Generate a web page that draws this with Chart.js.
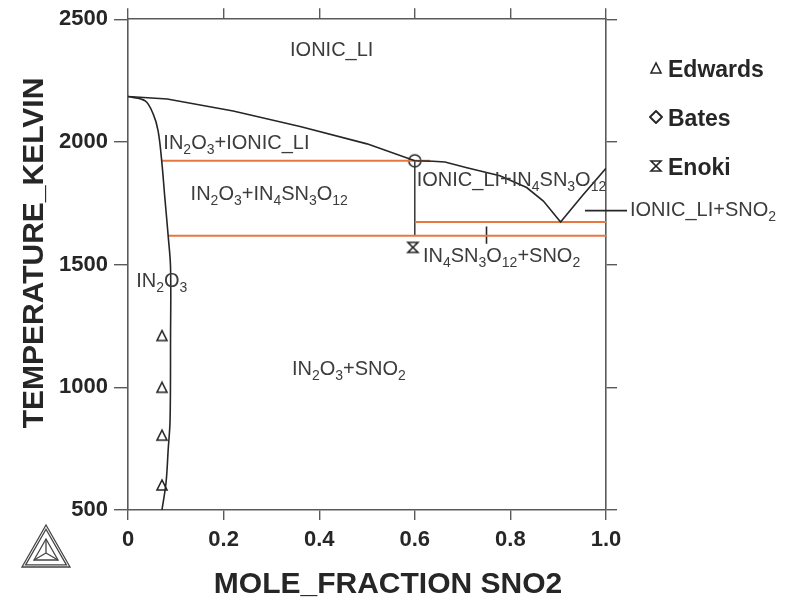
<!DOCTYPE html>
<html>
<head>
<meta charset="utf-8">
<script src="https://cdn.jsdelivr.net/npm/chart.js@4/dist/chart.umd.min.js"></script>
<style>
  html, body { margin: 0; padding: 0; background: #fff; }
  #wrap { width: 792px; height: 604px; }
</style>
</head>
<body>
<div id="wrap"><canvas id="graph-container" width="792" height="604"></canvas></div>
<script>
// Liquidus (upper boundary of IONIC_LI)
const liquidusX = [0, 0.082, 0.22, 0.36, 0.50, 0.60, 0.638, 0.663, 0.709, 0.778, 0.834, 0.869, 0.905, 0.95, 1.0];
const liquidusT = [2185, 2175, 2126, 2063, 1992, 1923, 1921, 1918, 1895, 1862, 1814, 1759, 1674, 1780, 1893];

// IN2O3 solvus
const solidusX = [0, 0.036, 0.053, 0.063, 0.0705, 0.077, 0.084, 0.089, 0.089, 0.088, 0.084, 0.0795, 0.071];
const solidusT = [2185, 2167, 2112, 2045, 1923, 1774, 1618, 1489, 1200, 866, 744, 610, 500];

// tie lines (orange)
const tieUpperX = [0.0705, 0.632];
const tieUpperT = [1923, 1923];
const tieEutecticX = [0.6, 1.0];
const tieEutecticT = [1674, 1674];
const tieLowerX = [0.084, 1.0];
const tieLowerT = [1618, 1618];

// IN4SN3O12 compound line and small marks
const compoundX = [0.6, 0.6];
const compoundT = [1923, 1618];
const markX = [0.75, 0.75];
const markT = [1655, 1585];
const leaderX = [0.956, 1.044];
const leaderT = [1720, 1720];

// experimental points
const edwardsX = [0.071, 0.071, 0.071, 0.071];
const edwardsT = [1211, 1000, 805, 602];
const batesX = [0.6];
const batesT = [1923];
const enokiX = [0.596];
const enokiT = [1570];

// region labels, {n} = subscript
const regionNames = ['IONIC_LI', 'IN{2}O{3}+IONIC_LI', 'IN{2}O{3}+IN{4}SN{3}O{12}', 'IONIC_LI+IN{4}SN{3}O{12}',
  'IONIC_LI+SNO{2}', 'IN{4}SN{3}O{12}+SNO{2}', 'IN{2}O{3}', 'IN{2}O{3}+SNO{2}'];
const regionX = [0.339, 0.074, 0.131, 0.604, 1.05, 0.617, 0.017, 0.343];
const regionT = [2350, 1971, 1764, 1821, 1699, 1512, 1407, 1049];

const xTicks = [0, 0.2, 0.4, 0.6, 0.8, 1.0];
const yTicks = [500, 1000, 1500, 2000, 2500];

const FONT = '"Liberation Sans", Arial, Helvetica, sans-serif';
const INK = '#262626';
const ORANGE = '#e8773f';
const FRAME = '#5a5a5a';

const pts = (xs, ys) => xs.map((x, i) => ({ x, y: ys[i] }));

// little canvases used as point styles
const makeMarker = (w, h, draw) => {
  const c = document.createElement('canvas');
  c.width = w; c.height = h;
  const g = c.getContext('2d');
  g.strokeStyle = INK;
  g.lineWidth = 1.6;
  draw(g);
  return c;
};
const triMarker = makeMarker(14, 14, g => {
  g.beginPath(); g.moveTo(7, 2); g.lineTo(2, 12); g.lineTo(12, 12); g.closePath(); g.stroke();
});
const circleMarker = makeMarker(16, 16, g => {
  g.beginPath(); g.arc(8, 8, 6, 0, Math.PI * 2); g.stroke();
});
const diamondMarker = makeMarker(16, 16, g => {
  g.lineJoin = 'round';
  g.lineWidth = 1.9;
  g.beginPath(); g.moveTo(8, 2); g.lineTo(14, 8); g.lineTo(8, 14); g.lineTo(2, 8); g.closePath(); g.stroke();
});
const glassMarker = makeMarker(14, 14, g => {
  g.beginPath();
  g.moveTo(2, 2); g.lineTo(12, 2); g.lineTo(2, 12); g.lineTo(12, 12); g.closePath();
  g.stroke();
});

const lineSet = (label, xs, ys, color, width, extra = {}) => Object.assign({
  label, data: pts(xs, ys), showLine: true, borderColor: color, borderWidth: width,
  pointRadius: 0, fill: false, tension: 0
}, extra);

const pointSet = (label, xs, ys, marker) => ({
  label, data: pts(xs, ys), showLine: false, pointStyle: marker, pointRadius: 6,
  borderColor: INK, backgroundColor: 'rgba(0,0,0,0)'
});

// draw text with {n} subscripts, left aligned at baseline
const drawSubText = (ctx, str, x, y, size, subSize) => {
  const parts = str.split(/(\{[0-9]+\})/).filter(s => s.length);
  let cx = x;
  parts.forEach(p => {
    const sub = p[0] === '{';
    const t = sub ? p.slice(1, -1) : p;
    ctx.font = `${sub ? subSize : size}px ${FONT}`;
    ctx.fillText(t, cx, sub ? y + 5 : y);
    cx += ctx.measureText(t).width;
  });
};

const decorPlugin = {
  id: 'decor',
  afterDraw(chart) {
    const { ctx, scales: { x, y } } = chart;
    ctx.save();
    ctx.textBaseline = 'alphabetic';
    ctx.textAlign = 'left';

    // region labels
    ctx.fillStyle = '#3c3c3c';
    regionNames.forEach((name, i) => {
      drawSubText(ctx, name, x.getPixelForValue(regionX[i]), y.getPixelForValue(regionT[i]), 20, 14);
    });

    // legend
    const legendItems = [['Edwards', triMarker], ['Bates', diamondMarker], ['Enoki', glassMarker]];
    ctx.font = `bold 23px ${FONT}`;
    ctx.fillStyle = INK;
    legendItems.forEach(([name, marker], i) => {
      const base = 77 + i * 49;
      ctx.drawImage(marker, 656 - marker.width / 2, base - 9 - marker.height / 2);
      ctx.fillText(name, 668, base);
    });

    // axis titles
    ctx.font = `bold 30px ${FONT}`;
    ctx.textAlign = 'center';
    ctx.fillText('MOLE_FRACTION SNO2', 388, 593);
    ctx.save();
    ctx.translate(43, 253);
    ctx.rotate(-Math.PI / 2);
    ctx.fillText('TEMPERATURE_KELVIN', 0, 0);
    ctx.restore();

    // Thermo-Calc logo
    const cxl = 46, cyl = 553;
    const tri = s => {
      ctx.beginPath();
      ctx.moveTo(cxl, cyl - 28 * s);
      ctx.lineTo(cxl + 24 * s, cyl + 14 * s);
      ctx.lineTo(cxl - 24 * s, cyl + 14 * s);
      ctx.closePath();
      ctx.stroke();
    };
    ctx.strokeStyle = '#444';
    ctx.lineWidth = 1.3;
    tri(1); tri(0.85); tri(0.5);
    ctx.beginPath();
    ctx.moveTo(cxl, cyl); ctx.lineTo(cxl, cyl - 14);
    ctx.moveTo(cxl, cyl); ctx.lineTo(cxl + 12, cyl + 7);
    ctx.moveTo(cxl, cyl); ctx.lineTo(cxl - 12, cyl + 7);
    ctx.stroke();
    ctx.restore();
  }
};

const axisBase = (extra) => Object.assign({
  type: 'linear',
  border: { display: true, color: FRAME, width: 1.6 },
  grid: { drawOnChartArea: false, drawTicks: true, color: FRAME, lineWidth: 1.4 }
}, extra);

const config = {
  type: 'scatter',
  data: {
    datasets: [
      lineSet('liquidus', liquidusX, liquidusT, INK, 1.6),
      lineSet('solvus', solidusX, solidusT, INK, 1.6, { tension: 0.35 }),
      lineSet('tie upper', tieUpperX, tieUpperT, ORANGE, 2),
      lineSet('tie eutectic', tieEutecticX, tieEutecticT, ORANGE, 2),
      lineSet('tie lower', tieLowerX, tieLowerT, ORANGE, 2),
      lineSet('IN4SN3O12', compoundX, compoundT, INK, 1.4),
      lineSet('mark', markX, markT, INK, 1.6),
      lineSet('leader', leaderX, leaderT, INK, 1.6, { clip: false }),
      pointSet('Edwards', edwardsX, edwardsT, triMarker),
      pointSet('Bates', batesX, batesT, circleMarker),
      pointSet('Enoki', enokiX, enokiT, glassMarker)
    ]
  },
  options: {
    responsive: false,
    animation: false,
    layout: { padding: 0 },
    plugins: { legend: { display: false }, tooltip: { enabled: false } },
    scales: {
      x: axisBase({
        position: 'bottom', min: 0, max: 1,
        afterFit: s => { s.height = 94; },
        afterBuildTicks: s => { s.ticks = xTicks.map(value => ({ value })); },
        grid: { drawOnChartArea: false, color: FRAME, lineWidth: 1.4, tickLength: 10 },
        ticks: {
          padding: 7, color: INK, font: { family: FONT, size: 22, weight: 'bold' },
          callback: v => (v === 0 ? '0' : v.toFixed(1))
        }
      }),
      x2: axisBase({
        axis: 'x', position: 'top', min: 0, max: 1,
        afterFit: s => { s.height = 18; },
        afterBuildTicks: s => { s.ticks = xTicks.map(value => ({ value })); },
        grid: { drawOnChartArea: false, color: FRAME, lineWidth: 1.4, tickLength: 11 },
        ticks: { display: false }
      }),
      y: axisBase({
        position: 'left', min: 500, max: 2500,
        afterFit: s => { s.width = 128; },
        afterBuildTicks: s => { s.ticks = yTicks.map(value => ({ value })); },
        grid: { drawOnChartArea: false, color: FRAME, lineWidth: 1.4, tickLength: 14 },
        ticks: {
          padding: 6, color: INK, font: { family: FONT, size: 22, weight: 'bold' },
          callback: v => String(v)
        }
      }),
      y2: axisBase({
        axis: 'y', position: 'right', min: 500, max: 2500,
        afterFit: s => { s.width = 186; },
        afterBuildTicks: s => { s.ticks = yTicks.map(value => ({ value })); },
        grid: { drawOnChartArea: false, color: FRAME, lineWidth: 1.4, tickLength: 11 },
        ticks: { display: false }
      })
    }
  },
  plugins: [decorPlugin]
};

new Chart(document.getElementById('graph-container'), config);
</script>
</body>
</html>
